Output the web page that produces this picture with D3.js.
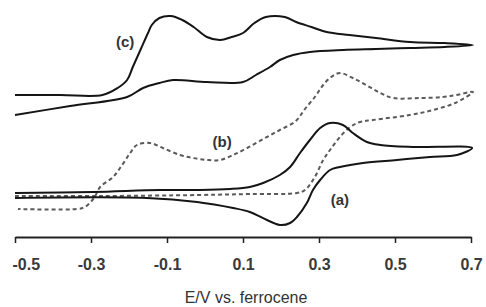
<!DOCTYPE html>
<html>
<head>
<meta charset="utf-8">
<script src="https://cdn.jsdelivr.net/npm/d3@7"></script>
<style>
  body { margin: 0; background: #fff; }
  text { font-family: "Liberation Sans", Arial, sans-serif; }
</style>
</head>
<body>
<div id="chart"></div>
<script>
// Potential axis
const tickValues = [-0.5, -0.3, -0.1, 0.1, 0.3, 0.5, 0.7];
const axisTitle = "E/V vs. ferrocene";

// (c) cyclic voltammogram, forward then return scan (current in arbitrary units, offset)
const cForwardE = [-0.50, -0.38, -0.27, -0.23, -0.205, -0.19, -0.17, -0.15, -0.14, -0.12, -0.09, -0.06, -0.03, 0.005, 0.04, 0.07, 0.10, 0.13, 0.16, 0.21, 0.24, 0.28, 0.32, 0.38, 0.45, 0.54, 0.63, 0.705];
const cForwardI = [142, 142, 142, 149, 157, 170, 187, 204, 212, 219, 221, 217, 210, 200, 197, 200, 204, 214, 220, 220, 215, 210, 205, 202, 199, 195, 194, 192];
const cReturnE = [0.63, 0.54, 0.45, 0.363, 0.276, 0.232, 0.197, 0.171, 0.134, 0.10, 0.005, -0.084, -0.12, -0.163, -0.205, -0.355, -0.50];
const cReturnI = [190, 189, 188, 187, 185, 182, 177, 170, 162, 155, 155, 157, 154, 149, 140, 131, 122];

// (b) dashed trace
const bForwardE = [-0.50, -0.276, -0.013, 0.118, 0.242, 0.263, 0.289, 0.311, 0.329, 0.355, 0.382, 0.408, 0.442, 0.539, 0.60, 0.658, 0.705];
const bForwardI = [41, 41, 42, 43, 44, 47, 60, 77, 87, 100, 110, 115, 117, 122, 127, 134, 145];
const bReturnE = [0.661, 0.626, 0.566, 0.495, 0.461, 0.424, 0.389, 0.355, 0.332, 0.311, 0.289, 0.263, 0.239, 0.197, 0.158, 0.111, 0.074, 0.039, 0.005, -0.032,
                  -0.066, -0.111, -0.145, -0.179, -0.197, -0.218, -0.242, -0.276, -0.292, -0.316, -0.337, -0.492];
const bReturnI = [142, 140, 139, 139, 144, 152, 159, 164, 160, 152, 140, 128, 116, 107, 99, 89, 82, 77, 77, 79,
                  82, 89, 94, 92, 84, 72, 60, 50, 39, 30, 28, 28];

// (a) cyclic voltammogram
const aForwardE = [-0.50, -0.295, -0.118, -0.013, 0.066, 0.118, 0.153, 0.197, 0.224, 0.25, 0.276, 0.303, 0.329, 0.363, 0.389, 0.426, 0.461, 0.547, 0.703];
const aForwardI = [44, 45, 47, 47, 48, 50, 54, 62, 70, 84, 97, 109, 114, 112, 104, 95, 92, 90, 89];
const aReturnE = [0.663, 0.592, 0.505, 0.416, 0.355, 0.329, 0.303, 0.284, 0.268, 0.242, 0.224, 0.197, 0.163, 0.118, 0.074, -0.021, -0.153, -0.50];
const aReturnI = [82, 80, 77, 74, 70, 67, 57, 47, 34, 20, 14, 12, 17, 25, 29, 35, 39, 39];

// Trace labels
const labelNames = ["(c)", "(b)", "(a)"];
const labelE = [-0.21, 0.045, 0.355];
const labelI = [195, 95, 37];

const width = 486, height = 307;

const svg = d3.select("#chart").append("svg")
  .attr("width", width)
  .attr("height", height);

const x = d3.scaleLinear().domain([-0.5, 0.7]).range([15, 471]);
const y = d3.scaleLinear().domain([0, 230]).range([237, 7]);

const zip = (es, is) => es.map((e, i) => [e, is[i]]);

const line = d3.line()
  .x(d => x(d[0]))
  .y(d => y(d[1]))
  .curve(d3.curveCatmullRom.alpha(0.5));

const traces = [
  { pts: zip(cForwardE, cForwardI).concat(zip(cReturnE, cReturnI)), color: "#151515", dash: null },
  { pts: zip(bForwardE, bForwardI).concat(zip(bReturnE, bReturnI)), color: "#5a5a5a", dash: "4,3" },
  { pts: zip(aForwardE, aForwardI).concat(zip(aReturnE, aReturnI)), color: "#151515", dash: null }
];

svg.append("g").selectAll("path")
  .data(traces)
  .enter().append("path")
  .attr("d", d => line(d.pts))
  .attr("fill", "none")
  .attr("stroke", d => d.color)
  .attr("stroke-width", 2)
  .attr("stroke-linejoin", "round")
  .attr("stroke-dasharray", d => d.dash);

// Axis
const xAxis = d3.axisBottom(x)
  .tickValues(tickValues)
  .tickSize(6)
  .tickSizeOuter(0)
  .tickFormat(d => d.toFixed(1));

const axisG = svg.append("g")
  .attr("transform", "translate(0,237)")
  .call(xAxis);

axisG.select(".domain").attr("stroke", "#222").attr("stroke-width", 2);
axisG.selectAll(".tick line").attr("stroke", "#222").attr("stroke-width", 1.5);
axisG.selectAll(".tick text")
  .attr("y", 22)
  .attr("fill", "#3a3a3a")
  .attr("text-anchor", (d, i) => i === 0 ? "start" : "middle")
  .attr("dx", (d, i) => i === 0 ? -3 : 0)
  .style("font-size", "16px")
  .style("font-weight", "bold");

svg.append("text")
  .attr("x", 246)
  .attr("y", 303)
  .attr("text-anchor", "middle")
  .attr("fill", "#333")
  .style("font-size", "16px")
  .text(axisTitle);

svg.append("g").selectAll("text")
  .data(labelNames)
  .enter().append("text")
  .attr("x", (d, i) => x(labelE[i]))
  .attr("y", (d, i) => y(labelI[i]))
  .attr("text-anchor", "middle")
  .attr("dy", "0.35em")
  .attr("fill", "#333")
  .style("font-size", "15px")
  .style("font-weight", "bold")
  .text(d => d);
</script>
</body>
</html>
